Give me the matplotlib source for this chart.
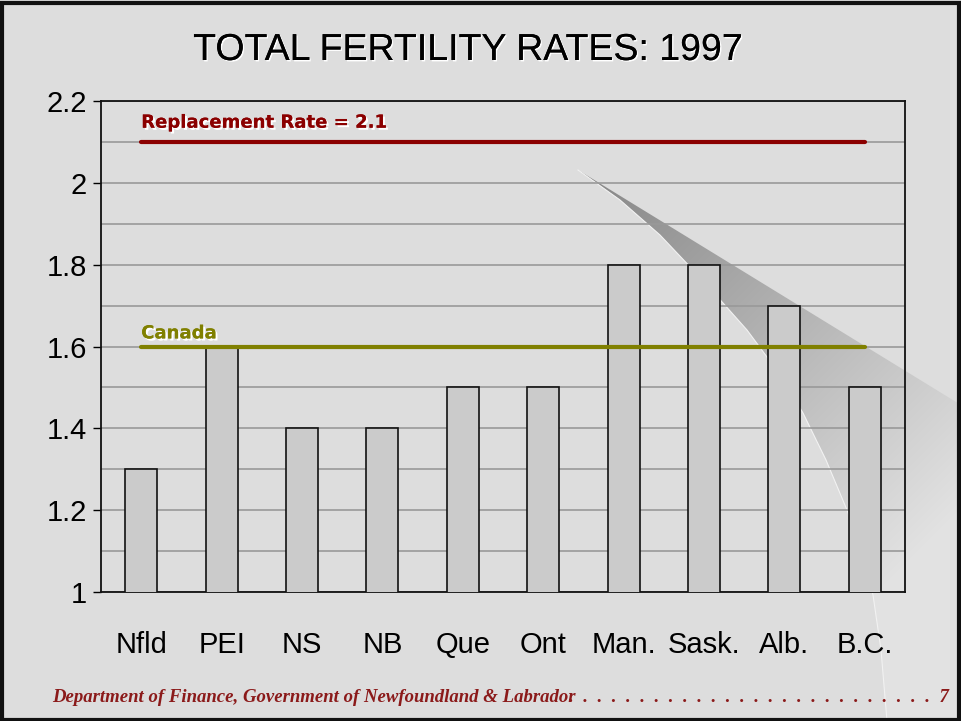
import matplotlib
matplotlib.use("Agg")
import numpy as np
import matplotlib.pyplot as plt
import matplotlib.patheffects as pe
from matplotlib.patches import Polygon
from matplotlib import font_manager

# data
provinces = ["Nfld", "PEI", "NS", "NB", "Que", "Ont", "Man.", "Sask.", "Alb.", "B.C."]
rates = [1.3, 1.6, 1.4, 1.4, 1.5, 1.5, 1.8, 1.8, 1.7, 1.5]
replacement_rate = 2.1
canada_rate = 1.6
y_ticks = [1, 1.2, 1.4, 1.6, 1.8, 2, 2.2]
y_tick_labels = ["1", "1.2", "1.4", "1.6", "1.8", "2", "2.2"]

names = {f.name for f in font_manager.fontManager.ttflist}
narrow = "Liberation Sans Narrow" if "Liberation Sans Narrow" in names else "Liberation Sans"

W, H = 961, 721
fig = plt.figure(figsize=(W / 100, H / 100), dpi=100)
fig.patch.set_facecolor("#dddddd")

# background layer in pixel coords: page curl shadow
bg = fig.add_axes([0, 0, 1, 1], zorder=0)
bg.axis("off")
edge = [(887, 721), (881, 650), (873, 595), (862, 550), (847, 510), (826, 460),
        (803, 413), (786, 385), (767, 357), (747, 330), (723, 303), (695, 272),
        (660, 235), (620, 200), (578, 170)]
curl = [(961, 405), (961, 721)] + edge
poly = Polygon(curl, closed=True, facecolor="none", edgecolor="none")
bg.add_patch(poly)
gx, gy = np.meshgrid(np.arange(W), np.arange(H))
d = np.clip(((gx - 578) + (gy - 170)) / 720.0, 0, 1)
shade = (0x85 + (0xe2 - 0x85) * d) / 255.0
img = bg.imshow(np.dstack([shade, shade, shade]), extent=(0, W, H, 0), zorder=1,
                interpolation="bilinear", aspect="auto")
img.set_clip_path(poly)
bg.plot([p[0] for p in edge], [p[1] for p in edge], color="#f2f2f2", linewidth=0.8, zorder=2)
bg.set_xlim(0, W)
bg.set_ylim(H, 0)

# slide frame
fig.add_artist(plt.Rectangle((0.002, 0.002), 0.996, 0.994, transform=fig.transFigure,
                             fill=False, edgecolor="#111111", linewidth=3, zorder=10))

ax = fig.add_axes([101 / W, 1 - 592 / H, 804 / W, 491 / H], zorder=1)
ax.set_facecolor("none")

x = range(len(provinces))
ax.bar(x, rates, width=0.4, color="#cbcbcb", edgecolor="#111111", linewidth=1.2, zorder=3)

ax.plot([0, len(provinces) - 1], [replacement_rate, replacement_rate], color="#8b0000",
        linewidth=3, solid_capstyle="round", zorder=4)
ax.plot([0, len(provinces) - 1], [canada_rate, canada_rate], color="#808000",
        linewidth=3, solid_capstyle="round", zorder=4)

shadow = [pe.withSimplePatchShadow(offset=(1.5, -1.5), shadow_rgbFace="white", alpha=1.0), pe.Normal()]
ax.text(0, replacement_rate + 0.025, "Replacement Rate = 2.1", color="#8b0000", fontsize=13,
        fontweight="bold", family="DejaVu Sans", va="bottom", ha="left", path_effects=shadow, zorder=5)
ax.text(0, canada_rate + 0.01, "Canada", color="#808000", fontsize=13,
        fontweight="bold", family="DejaVu Sans", va="bottom", ha="left", path_effects=shadow, zorder=5)

ax.set_xlim(-0.5, len(provinces) - 0.5)
ax.set_ylim(1, 2.2)
ax.set_yticks(y_ticks)
ax.set_yticklabels(y_tick_labels, family=narrow, fontsize=21)
ax.set_yticks([1.1, 1.3, 1.5, 1.7, 1.9, 2.1], minor=True)
ax.tick_params(axis="y", which="minor", length=0)
ax.tick_params(axis="y", which="major", length=6, width=1, pad=4)
ax.set_xticks(list(x))
ax.set_xticklabels(provinces, family=narrow, fontsize=21)
ax.tick_params(axis="x", length=0, pad=28)
ax.grid(axis="y", which="both", color="#999999", linewidth=1.2, zorder=0)
ax.set_axisbelow(True)
for s in ax.spines.values():
    s.set_color("#111111")
    s.set_linewidth(1.3)

fig.text(468 / W, 1 - 50 / H, "TOTAL FERTILITY RATES: 1997", ha="center", va="center",
         fontsize=27, family="Liberation Sans",
         path_effects=[pe.withSimplePatchShadow(offset=(1, -1), shadow_rgbFace="white", alpha=1.0), pe.Normal()])

fig.text(52 / W, 1 - 698 / H, "Department of Finance, Government of Newfoundland & Labrador",
         ha="left", va="center", fontsize=13.5, family="Liberation Serif", fontweight="bold",
         fontstyle="italic", color="#8b1a1a")
fig.text(949 / W, 1 - 698 / H, ".  " * 26 + "7",
         ha="right", va="center", fontsize=13.5, family="Liberation Serif", fontweight="bold",
         fontstyle="italic", color="#8b1a1a")

fig.savefig("out.png", dpi=100, facecolor=fig.get_facecolor())
